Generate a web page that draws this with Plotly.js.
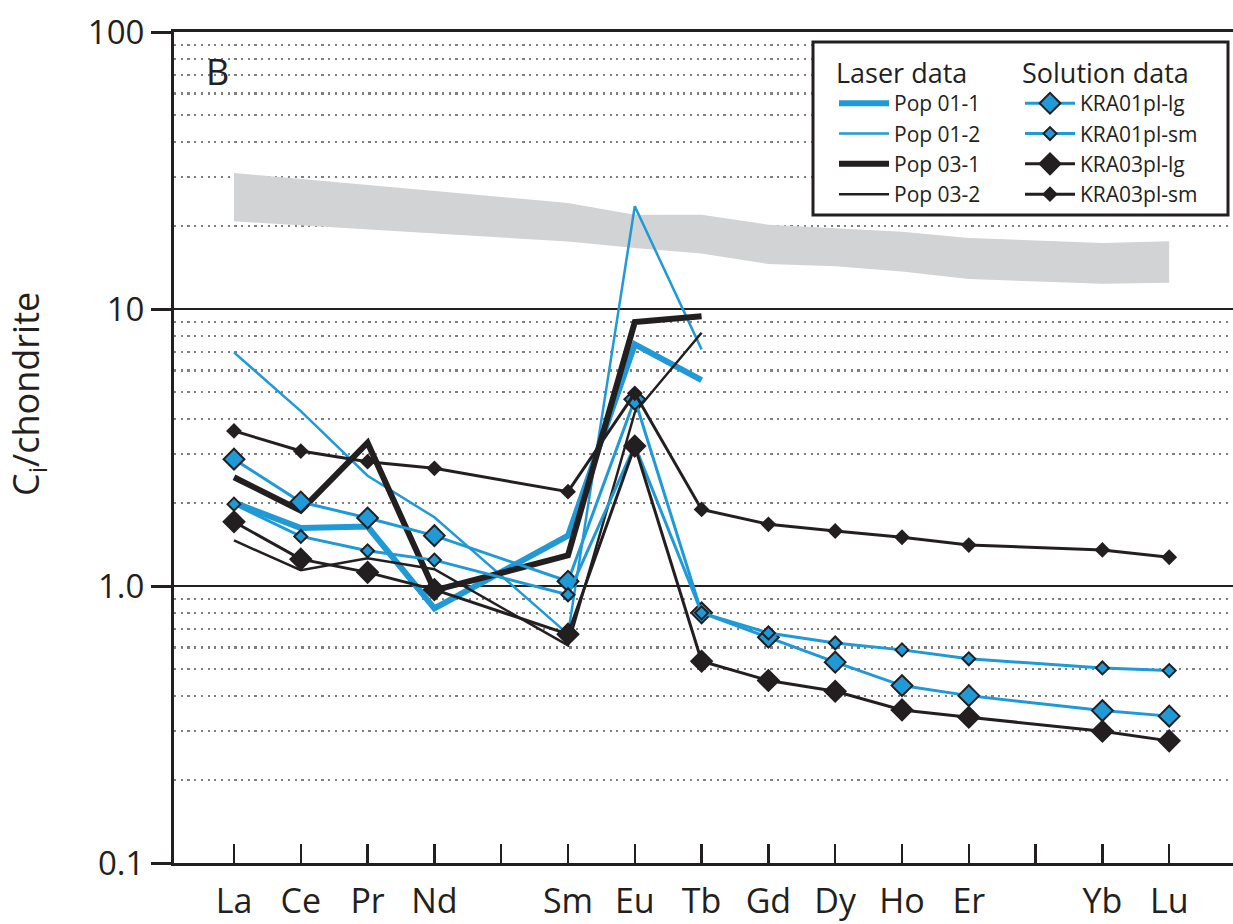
<!DOCTYPE html>
<html>
<head>
<meta charset="utf-8">
<script src="https://cdn.plot.ly/plotly-3.0.1.min.js"></script>
<style>html,body{margin:0;padding:0;background:#fff;}#chart{width:1233px;height:924px;}</style>
</head>
<body>
<div id="chart"></div>
<script>
// Axis categories (Pm and Tm are empty slots on the axis)
const axisCategories = ['La','Ce','Pr','Nd','Pm','Sm','Eu','Tb','Gd','Dy','Ho','Er','Tm','Yb','Lu'];
const axisTickText   = ['La','Ce','Pr','Nd','','Sm','Eu','Tb','Gd','Dy','Ho','Er','','Yb','Lu'];

const elements      = ['La','Ce','Pr','Nd','Sm','Eu','Tb','Gd','Dy','Ho','Er','Yb','Lu'];
const laserElements = ['La','Ce','Pr','Nd','Sm','Eu','Tb'];

// Grey reference field
const bandTop    = [30.96, 29.46, 28.09, 26.67, 24.14, 21.90, 21.90, 20.16, 19.60, 19.02, 18.06, 17.32, 17.55];
const bandBottom = [20.72, 20.04, 19.38, 18.73, 17.51, 16.62, 15.85, 14.55, 14.26, 13.65, 12.83, 12.33, 12.43];

// Laser data
const pop01_1 = [2.00, 1.62, 1.64, 0.83, 1.52, 7.45, 5.54];
const pop01_2 = [6.97, 4.28, 2.50, 1.77, 0.67, 23.5, 7.15];
const pop03_1 = [2.47, 1.87, 3.29, 0.965, 1.29, 8.97, 9.42];
const pop03_2 = [1.46, 1.14, 1.26, 1.15, 0.61, 4.23, 8.21];

// Solution data
const kra01pl_lg = [2.87, 2.01, 1.76, 1.52, 1.04, 4.72, 0.80, 0.653, 0.531, 0.437, 0.402, 0.355, 0.339];
const kra01pl_sm = [1.975, 1.51, 1.34, 1.24, 0.93, 3.22, 0.80, 0.677, 0.623, 0.588, 0.546, 0.506, 0.495];
const kra03pl_lg = [1.705, 1.25, 1.12, 0.97, 0.67, 3.20, 0.535, 0.456, 0.417, 0.357, 0.336, 0.299, 0.276];
const kra03pl_sm = [3.63, 3.07, 2.81, 2.66, 2.19, 4.96, 1.89, 1.67, 1.58, 1.50, 1.405, 1.35, 1.27];

const yTickVals = [0.1, 1, 10, 100];
const yTickText = ['0.1', '1.0', '10', '100'];
const yMinorVals = [0.2,0.3,0.4,0.5,0.6,0.7,0.8,0.9,2,3,4,5,6,7,8,9,20,30,40,50,60,70,80,90];

const BLUE = '#1f9ad6';
const BLACK = '#231f20';
const FONT = 'Open Sans, Noto Sans, sans-serif';

const traces = [
  {x: elements, y: bandBottom, mode: 'lines', line: {width: 0, color: '#d1d3d4'}, showlegend: false, hoverinfo: 'skip'},
  {x: elements, y: bandTop, mode: 'lines', line: {width: 0, color: '#d1d3d4'}, fill: 'tonexty', fillcolor: '#d1d3d4', showlegend: false, hoverinfo: 'skip'},

  {name: 'Pop 01-1', x: laserElements, y: pop01_1, mode: 'lines', line: {color: BLUE, width: 6}, legend: 'legend'},
  {name: 'Pop 01-2', x: laserElements, y: pop01_2, mode: 'lines', line: {color: BLUE, width: 2.5}, legend: 'legend'},
  {name: 'Pop 03-1', x: laserElements, y: pop03_1, mode: 'lines', line: {color: BLACK, width: 6}, legend: 'legend'},
  {name: 'Pop 03-2', x: laserElements, y: pop03_2, mode: 'lines', line: {color: BLACK, width: 2.5}, legend: 'legend'},

  {name: 'KRA01pl-lg', x: elements, y: kra01pl_lg, mode: 'lines+markers', line: {color: BLUE, width: 3},
   marker: {symbol: 'diamond', size: 16, color: BLUE, line: {color: BLACK, width: 2}}, legend: 'legend2'},
  {name: 'KRA01pl-sm', x: elements, y: kra01pl_sm, mode: 'lines+markers', line: {color: BLUE, width: 3},
   marker: {symbol: 'diamond', size: 10, color: BLUE, line: {color: BLACK, width: 2}}, legend: 'legend2'},
  {name: 'KRA03pl-lg', x: elements, y: kra03pl_lg, mode: 'lines+markers', line: {color: BLACK, width: 3},
   marker: {symbol: 'diamond', size: 16, color: BLACK, line: {color: BLACK, width: 2}}, legend: 'legend2'},
  {name: 'KRA03pl-sm', x: elements, y: kra03pl_sm, mode: 'lines+markers', line: {color: BLACK, width: 3},
   marker: {symbol: 'diamond', size: 10, color: BLACK, line: {color: BLACK, width: 2}}, legend: 'legend2'}
];

const plotL = 174, plotR = 1233, plotT = 32, plotB = 863;
const px = v => (v - plotL) / (plotR - plotL);
const py = v => (plotB - v) / (plotB - plotT);

const layout = {
  width: 1233, height: 924,
  margin: {l: plotL, r: 1233 - plotR, t: plotT, b: 924 - plotB, pad: 0},
  paper_bgcolor: '#fff', plot_bgcolor: '#fff',
  font: {family: FONT, color: BLACK},
  xaxis: {
    type: 'category', categoryorder: 'array', categoryarray: axisCategories,
    range: [-0.898, 14.955],
    tickmode: 'array', tickvals: axisCategories, ticktext: axisTickText,
    ticks: 'inside', ticklen: 19, tickwidth: 2.5, tickcolor: BLACK,
    showline: true, linecolor: BLACK, linewidth: 3, mirror: true,
    showgrid: false, zeroline: false,
    tickfont: {family: FONT, size: 34, color: BLACK},
    ticklabelstandoff: 6
  },
  yaxis: {
    type: 'log', range: [-1, 2],
    tickmode: 'array', tickvals: yTickVals, ticktext: yTickText,
    ticks: 'outside', ticklen: 20, tickwidth: 3, tickcolor: BLACK,
    showline: true, linecolor: BLACK, linewidth: 3,
    showgrid: true, gridcolor: BLACK, gridwidth: 2.5, zeroline: false,
    tickfont: {family: FONT, size: 33, color: BLACK},
    ticklabelstandoff: 0,
    minor: {tickmode: 'array', tickvals: yMinorVals, showgrid: true, gridcolor: '#7f7f7f', gridwidth: 2.2, griddash: '2.2px,4.5px', ticks: ''}
  },
  legend: {
    x: px(834), y: py(48), xanchor: 'left', yanchor: 'top', traceorder: 'normal',
    bgcolor: 'rgba(0,0,0,0)', borderwidth: 0, itemwidth: 50,
    title: {text: 'Laser data', font: {family: FONT, size: 27, color: BLACK}},
    font: {family: FONT, size: 21, color: BLACK}, tracegroupgap: 0
  },
  legend2: {
    x: px(1020), y: py(48), xanchor: 'left', yanchor: 'top', traceorder: 'normal',
    bgcolor: 'rgba(0,0,0,0)', borderwidth: 0, itemwidth: 50,
    title: {text: 'Solution data', font: {family: FONT, size: 27, color: BLACK}},
    font: {family: FONT, size: 21, color: BLACK}, tracegroupgap: 0
  },
  shapes: [
    {type: 'rect', xref: 'paper', yref: 'paper', x0: px(813), x1: px(1228), y0: py(215), y1: py(42),
     fillcolor: '#fff', line: {color: BLACK, width: 3}, layer: 'above'}
  ],
  annotations: [
    {text: 'B', xref: 'paper', yref: 'paper', x: px(217), y: py(71), showarrow: false,
     xanchor: 'center', yanchor: 'middle', font: {family: FONT, size: 36, color: BLACK}},
    {text: 'C<sub>i</sub>/chondrite', xref: 'paper', yref: 'paper', x: px(27), y: py(394), showarrow: false,
     textangle: -90, xanchor: 'center', yanchor: 'middle', font: {family: FONT, size: 36, color: BLACK}}
  ],
  showlegend: true
};

Plotly.newPlot('chart', traces, layout, {displayModeBar: false, staticPlot: true});
</script>
</body>
</html>
